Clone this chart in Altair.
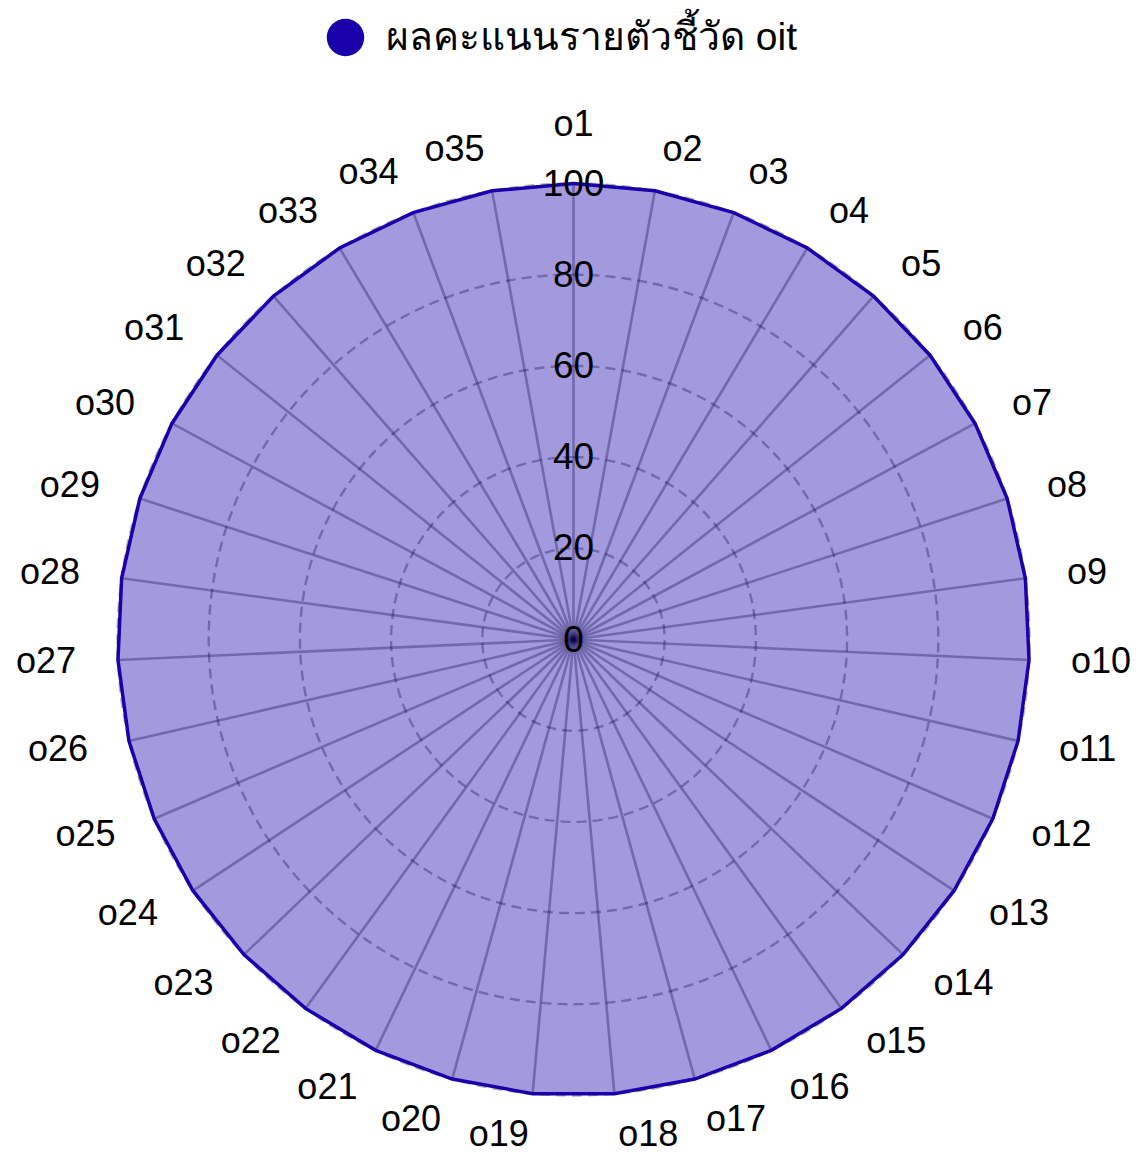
import altair as alt
import pandas as pd

# ---- data ----
indicators = [f"o{i}" for i in range(1, 36)]
scores = [100] * 35
series_name = "ผลคะแนนรายตัวชี้วัด oit"
tick_values = [0, 20, 40, 60, 80, 100]

N = len(indicators)
RMAX = max(tick_values)
FONT = "Liberation Sans"
MAIN = "#1800AA"

points = pd.DataFrame({
    "idx": list(range(N)),
    "label": indicators,
    "score": scores,
    "series": [series_name] * N,
})

# ring geometry (grid circles)
ring_rows = []
SEG = 240
for t in tick_values[1:]:
    for j in range(SEG + 1):
        ring_rows.append({"ring": t, "j": j})
rings = pd.DataFrame(ring_rows)
ticks_df = pd.DataFrame({"tick": tick_values, "tlabel": [str(t) for t in tick_values]})

W, H = 1123, 1148
PX = 4.56          # pixels per unit
CX, CY = 565.5, 631.5
xs = alt.Scale(domain=[-CX / PX, (W - CX) / PX], nice=False, zero=False)
ys = alt.Scale(domain=[-(H - CY) / PX, CY / PX], nice=False, zero=False)
noax = None

ang = f"datum.idx * 2 * PI / {N}"
base = alt.Chart(points).transform_calculate(a=ang)

# spokes
spokes = base.transform_calculate(
    x0="0", y0="0",
    x1=f"{RMAX} * sin(datum.a)", y1=f"{RMAX} * cos(datum.a)"
).mark_rule(color="#000000", strokeOpacity=0.32, strokeWidth=2.6).encode(
    x=alt.X("x0:Q", scale=xs, axis=noax),
    y=alt.Y("y0:Q", scale=ys, axis=noax),
    x2="x1:Q", y2="y1:Q",
)

# dashed rings
ring_layer = alt.Chart(rings).transform_calculate(
    a=f"datum.j * 2 * PI / {SEG}",
).transform_calculate(
    rx="datum.ring * sin(datum.a)", ry="datum.ring * cos(datum.a)"
).mark_line(color="#000000", strokeOpacity=0.32, strokeWidth=2.4, strokeDash=[10, 6]).encode(
    x=alt.X("rx:Q", scale=xs, axis=noax),
    y=alt.Y("ry:Q", scale=ys, axis=noax),
    detail="ring:N",
    order="j:Q",
)

# data polygon
poly = base.transform_calculate(
    px="datum.score * sin(datum.a)", py="datum.score * cos(datum.a)"
).mark_line(
    interpolate="linear-closed", strokeWidth=3.5, fill=MAIN, fillOpacity=0.4
).encode(
    x=alt.X("px:Q", scale=xs, axis=noax),
    y=alt.Y("py:Q", scale=ys, axis=noax),
    order="idx:Q",
    color=alt.Color(
        "series:N",
        scale=alt.Scale(domain=[series_name], range=[MAIN]),
        legend=alt.Legend(
            title=None, orient="none", legendX=318, legendY=10,
            symbolType="circle", symbolSize=1400, symbolFillColor=MAIN,
            symbolStrokeColor=MAIN, symbolStrokeWidth=0, symbolOpacity=1,
            labelFont=FONT, labelFontSize=39, labelColor="#000000",
            labelOffset=21, labelLimit=800, padding=0,
        ),
    ),
)

# point labels
LR = 109.2
lab = base.transform_calculate(
    lx=f"{LR} * sin(datum.a)", ly=f"{LR} * cos(datum.a)"
)
lab_enc = dict(
    x=alt.X("lx:Q", scale=xs, axis=noax),
    y=alt.Y("ly:Q", scale=ys, axis=noax),
    text="label:N",
)
half = N // 2
right = lab.transform_filter(f"datum.idx >= 1 && datum.idx <= {half}").mark_text(
    align="left", baseline="middle", font=FONT, fontSize=36, color="#000000"
).encode(**lab_enc)
left = lab.transform_filter(f"datum.idx > {half}").mark_text(
    align="right", baseline="middle", font=FONT, fontSize=36, color="#000000"
).encode(**lab_enc)
top = lab.transform_filter("datum.idx == 0").mark_text(
    align="center", baseline="bottom", font=FONT, fontSize=36, color="#000000", dy=2
).encode(**lab_enc)

# radial tick labels
tick_text = alt.Chart(ticks_df).transform_calculate(tx="0").mark_text(
    align="center", baseline="middle", font=FONT, fontSize=37, color="#000000", dy=1
).encode(
    x=alt.X("tx:Q", scale=xs, axis=noax),
    y=alt.Y("tick:Q", scale=ys, axis=noax),
    text="tlabel:N",
)

chart = alt.layer(spokes, ring_layer, poly, right, left, top, tick_text).properties(
    width=W, height=H,
    autosize=alt.AutoSizeParams(type="none"),
    padding=0,
).configure_view(stroke=None)

chart.save("out.html", embed_options={"renderer": "svg", "actions": False})
